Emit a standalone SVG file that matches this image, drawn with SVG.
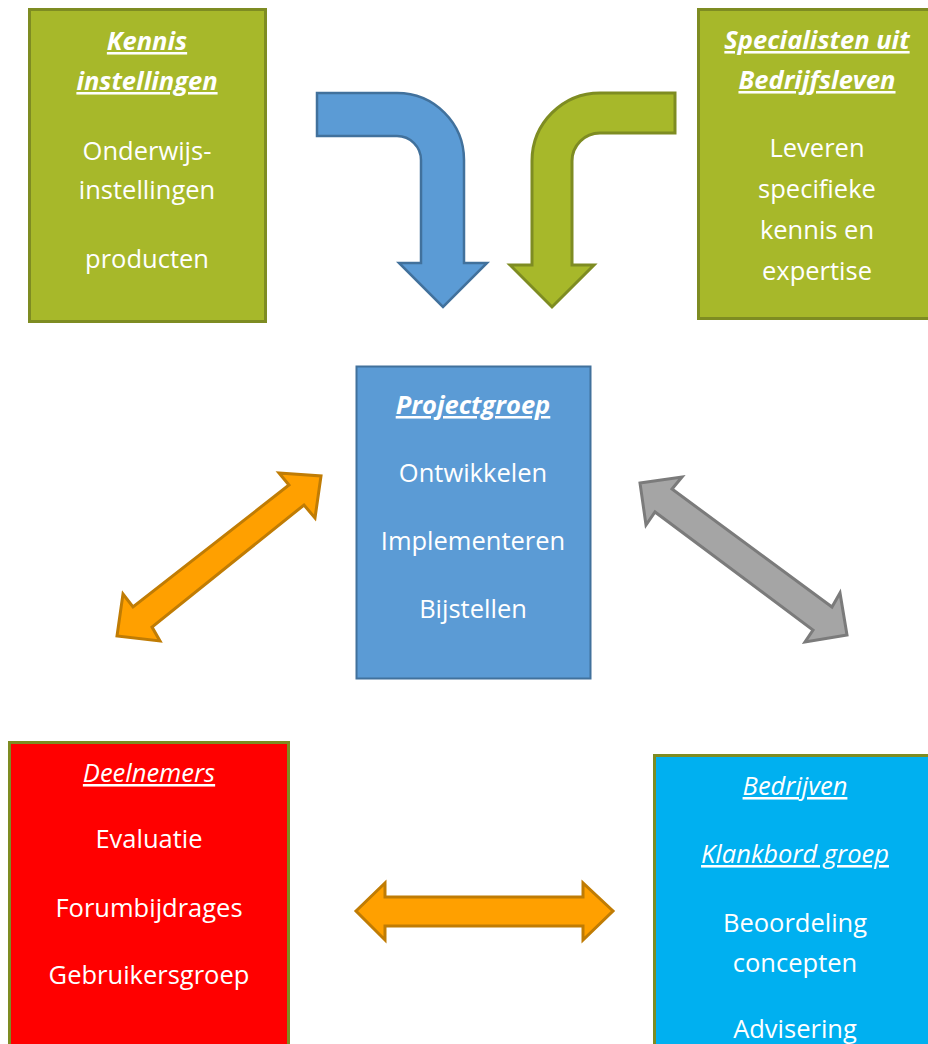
<svg xmlns="http://www.w3.org/2000/svg" width="928" height="1044" viewBox="0 0 928 1044">
<style>
text{font-family:"Open Sans",Lato,"Liberation Sans",sans-serif;font-size:25.5px;fill:#fff;text-anchor:middle}
.t{font-style:italic;text-decoration:underline}
.b{font-weight:bold}
.g{fill:#a7b82a;stroke:#7e8c22;stroke-width:3}
</style>
<rect width="928" height="1044" fill="#fff"/>
<g id="connectors" stroke-width="2.5" stroke-linejoin="miter">
<path id="arrow-blue" d="M317,93 L397,93 A67,67 0 0 1 464,160 L464,263 L487,263 L443,307 L399,263 L421,263 L421,160 A24,24 0 0 0 397,136 L317,136 Z" fill="#5b9bd5" stroke="#41719c"/>
<path id="arrow-green" d="M675,93 L600,93 A68,68 0 0 0 532,161 L532,265 L510,265 L552,307 L594,265 L572,265 L572,161 A28,28 0 0 1 600,133 L675,133 Z" fill="#a7b82a" stroke="#7e8c22" stroke-width="3"/>
<path id="arrow-orange-diag" d="M321,476 L315,518 L304,505 L152,627 L160,641 L117,636 L123,594 L133,607 L289,485 L279,473 Z" fill="#ffa000" stroke="#c07c04" stroke-width="3"/>
<path id="arrow-gray-diag" d="M640,483 L682,477 L672,489 L832,607 L840,593 L847,635 L805,642 L813,630 L655,512 L646,525 Z" fill="#a5a5a5" stroke="#7b7b7b" stroke-width="3"/>
<path id="arrow-orange-h" d="M356,911 L385,883 L385,897 L583,897 L583,883 L613,911 L583,940 L583,926 L385,926 L385,940 Z" fill="#ffa000" stroke="#c07c04" stroke-width="3"/>
</g>
<g id="kennis">
<rect class="g" x="29.5" y="9.5" width="236" height="312"/>
<text class="t b" x="147" y="50">Kennis</text>
<text class="t b" x="147" y="90">instellingen</text>
<text x="147" y="160">Onderwijs-</text>
<text x="147" y="199">instellingen</text>
<text x="147" y="268">producten</text>
</g>
<g id="specialisten">
<rect class="g" x="698.5" y="9.5" width="240" height="309"/>
<text class="t b" x="817" y="49">Specialisten uit</text>
<text class="t b" x="817" y="89">Bedrijfsleven</text>
<text x="817" y="157">Leveren</text>
<text x="817" y="198">specifieke</text>
<text x="817" y="239">kennis en</text>
<text x="817" y="280">expertise</text>
</g>
<g id="projectgroep">
<rect x="356.5" y="366.5" width="234" height="312" fill="#5b9bd5" stroke="#41719c" stroke-width="2"/>
<text class="t b" x="473" y="414">Projectgroep</text>
<text x="473" y="482">Ontwikkelen</text>
<text x="473" y="550">Implementeren</text>
<text x="473" y="618">Bijstellen</text>
</g>
<g id="deelnemers">
<rect x="9.5" y="742.5" width="279" height="320" fill="#ff0000" stroke="#7e8c22" stroke-width="3"/>
<text class="t" x="149" y="782">Deelnemers</text>
<text x="149" y="848">Evaluatie</text>
<text x="149" y="917">Forumbijdrages</text>
<text x="149" y="984">Gebruikersgroep</text>
</g>
<g id="bedrijven">
<rect x="654.5" y="755.5" width="290" height="310" fill="#00b0f0" stroke="#7e8c22" stroke-width="3"/>
<text class="t" x="795" y="795">Bedrijven</text>
<text class="t" x="795" y="863">Klankbord groep</text>
<text x="795" y="932">Beoordeling</text>
<text x="795" y="972">concepten</text>
<text x="795" y="1038">Advisering</text>
</g>
</svg>
